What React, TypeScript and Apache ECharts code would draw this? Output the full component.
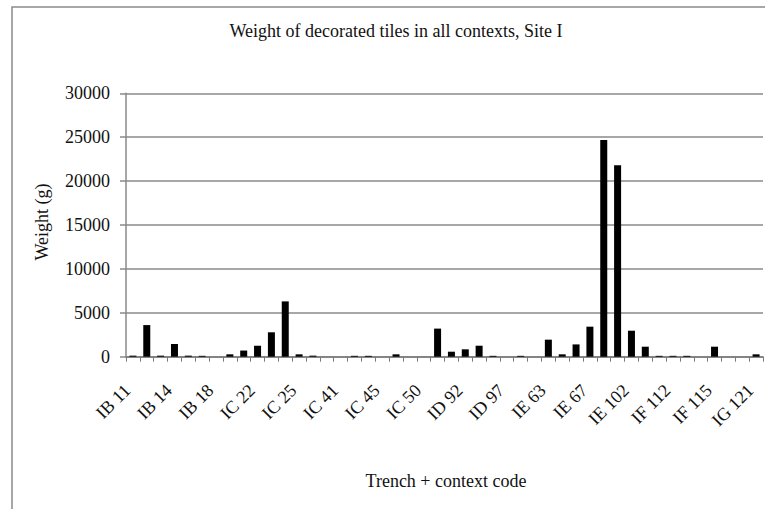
import React, { useEffect, useRef } from "react";
import * as echarts from "echarts";

const chartTitle = "Weight of decorated tiles in all contexts, Site I";
const xAxisTitle = "Trench + context code";
const yAxisTitle = "Weight (g)";

const categories = [
  "IB 11", "IB 12", "IB 13", "IB 14", "IB 15", "IB 17", "IB 18", "IB 19", "IC 21",
  "IC 22", "IC 23", "IC 24", "IC 25", "IC 26", "IC 40", "IC 41", "IC 43", "IC 44",
  "IC 45", "IC 47", "IC 48", "IC 50", "ID 90", "ID 91", "ID 92", "ID 94", "ID 95",
  "ID 97", "IE 60", "IE 61", "IE 63", "IE 65", "IE 66", "IE 67", "IE 100", "IE 101",
  "IE 102", "IF 110", "IF 111", "IF 112", "IF 113", "IF 114", "IF 115", "IG 119",
  "IG 120", "IG 121",
];

const weights = [
  120, 3600, 120, 1450, 120, 100, 0, 270, 700,
  1250, 2780, 6300, 270, 120, 0, 0, 100, 100,
  0, 270, 0, 0, 3200, 570, 840, 1250, 100,
  0, 100, 0, 1940, 270, 1400, 3420, 24680, 21800,
  2960, 1140, 100, 100, 100, 0, 1140, 0,
  0, 270,
];

const yMin = 0;
const yMax = 30000;
const yStep = 5000;

const FONT = "'Liberation Serif', 'Times New Roman', serif";

export default function App() {
  const ref = useRef<HTMLDivElement>(null);

  useEffect(() => {
    if (!ref.current) return;
    const chart = echarts.init(ref.current, null, { renderer: "svg" });
    chart.setOption({
      animation: false,
      backgroundColor: "#ffffff",
      grid: { left: 126, right: 2, top: 93.3, bottom: 152.3, containLabel: false },
      graphic: [
        {
          type: "rect",
          shape: { x: 12, y: 7, width: 900, height: 700 },
          style: { fill: "none", stroke: "#8a8a8a", lineWidth: 1.5 },
          silent: true,
          z: -1,
        },
        {
          type: "text",
          x: 396,
          y: 31,
          style: {
            text: chartTitle,
            font: `18px ${FONT}`,
            fill: "#111111",
            align: "center",
            verticalAlign: "middle",
          },
        },
        {
          type: "text",
          x: 446,
          y: 481,
          style: {
            text: xAxisTitle,
            font: `18px ${FONT}`,
            fill: "#111111",
            align: "center",
            verticalAlign: "middle",
          },
        },
        {
          type: "text",
          x: 42,
          y: 222,
          rotation: Math.PI / 2,
          style: {
            text: yAxisTitle,
            font: `18px ${FONT}`,
            fill: "#111111",
            align: "center",
            verticalAlign: "middle",
          },
        },
      ],
      xAxis: {
        type: "category",
        data: categories,
        boundaryGap: true,
        axisLine: { show: true, lineStyle: { color: "#7a7a7a", width: 1.5 } },
        axisTick: { show: true, interval: 0, length: 5, lineStyle: { color: "#7a7a7a", width: 1 } },
        axisLabel: {
          interval: 2,
          rotate: 45,
          margin: 25,
          padding: [0, 8, 0, 0],
          fontFamily: FONT,
          fontSize: 18,
          color: "#111111",
        },
        splitLine: { show: false },
      },
      yAxis: {
        type: "value",
        min: yMin,
        max: yMax,
        interval: yStep,
        axisLine: { show: true, lineStyle: { color: "#8a8a8a", width: 1.5 } },
        axisTick: { show: true, length: 6, lineStyle: { color: "#8a8a8a", width: 1.5 } },
        axisLabel: {
          margin: 16,
          fontFamily: FONT,
          fontSize: 18,
          color: "#111111",
          formatter: (v: number) => String(v),
        },
        splitLine: { show: true, lineStyle: { color: "#8a8a8a", width: 1.5 } },
      },
      series: [
        {
          type: "bar",
          data: weights,
          barWidth: 7,
          itemStyle: { color: "#000000" },
        },
      ],
    });
    return () => chart.dispose();
  }, []);

  return (
    <div
      ref={ref}
      style={{ position: "fixed", left: 0, top: 0, width: 765, height: 509 }}
    />
  );
}
